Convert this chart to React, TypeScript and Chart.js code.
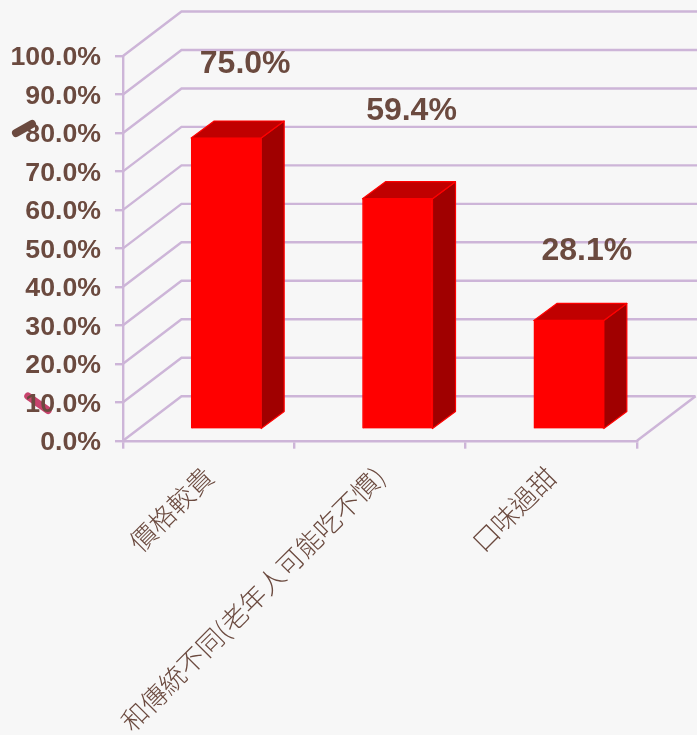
import React, { useEffect, useRef } from "react";
import { Chart, registerables } from "chart.js";

Chart.register(...registerables);

const categories = ["價格較貴", "和傳統不同(老年人可能吃不慣)", "口味過甜"];
const values = [75.0, 59.4, 28.1];
const valueLabels = ["75.0%", "59.4%", "28.1%"];
const labelGaps = [74, 88, 69];
const labelShifts = [19, 14, 18];

const BG = "#F7F7F7";
const TEXT = "#6B4A3F";
const GRID = "#CDB5D8";
const WALL_DX = 58.5;
const WALL_DY = -44.5;
const RIGHT_EDGE = 697;
const BAR_DX = 17.5;
const BAR_DY = -11;
const BAR_K = 1.011;
const DEPTH_X = 23;
const DEPTH_Y = -17;
const Y_LABEL_SHIFT = 2;

const line = (ctx: CanvasRenderingContext2D, pts: number[][], color: string, w: number) => {
  ctx.beginPath();
  pts.forEach((p, i) => (i ? ctx.lineTo(p[0], p[1]) : ctx.moveTo(p[0], p[1])));
  ctx.strokeStyle = color;
  ctx.lineWidth = w;
  ctx.stroke();
};

const poly = (ctx: CanvasRenderingContext2D, pts: number[][], fill: string) => {
  ctx.beginPath();
  pts.forEach((p, i) => (i ? ctx.lineTo(p[0], p[1]) : ctx.moveTo(p[0], p[1])));
  ctx.closePath();
  ctx.fillStyle = fill;
  ctx.fill();
  ctx.strokeStyle = "#FF0000";
  ctx.lineWidth = 1.2;
  ctx.lineJoin = "round";
  ctx.stroke();
};

const scene = {
  id: "scene",
  beforeDraw(chart: any) {
    const { ctx, width, height, scales } = chart;
    const yScale = scales.y;
    yScale.getLabelItems(chart.chartArea).forEach((item: any) => {
      if (!item.shifted) {
        item.options.translation = [item.options.translation[0], item.options.translation[1] + Y_LABEL_SHIFT];
        item.shifted = true;
      }
    });
    ctx.save();
    ctx.fillStyle = BG;
    ctx.fillRect(0, 0, width, height);
    const left = scales.x.left;
    const right = scales.x.right;
    for (let v = 0; v <= 100; v += 10) {
      const y = yScale.getPixelForValue(v);
      line(
        ctx,
        [
          [left, y],
          [left + WALL_DX, y + WALL_DY],
          [v === 0 ? right + WALL_DX : RIGHT_EDGE, y + WALL_DY],
        ],
        GRID,
        2.4
      );
    }
    const y0 = yScale.getPixelForValue(0);
    line(ctx, [[right, y0], [right + WALL_DX, y0 + WALL_DY]], GRID, 2.4);
    // stray pen strokes on the axis labels
    ctx.lineCap = "round";
    const y80 = yScale.getPixelForValue(80);
    line(ctx, [[16, y80], [32, y80 - 9]], TEXT, 8);
    const y10 = yScale.getPixelForValue(10);
    line(ctx, [[28, y10 - 6], [48, y10 + 8]], "#C8436D", 7.5);
    ctx.restore();
  },
  beforeDatasetDraw(chart: any, args: any) {
    const { ctx } = chart;
    const meta = chart.getDatasetMeta(args.index);
    ctx.save();
    meta.data.forEach((el: any) => {
      const { x, y, base, width } = el.getProps(["x", "y", "base", "width"], true);
      const l = x - width / 2 + BAR_DX;
      const r = x + width / 2 + BAR_DX;
      const bottom = base + BAR_DY;
      const top = bottom - (base - y) * BAR_K;
      poly(ctx, [[r, top], [r + DEPTH_X, top + DEPTH_Y], [r + DEPTH_X, bottom + DEPTH_Y], [r, bottom]], "#A00000");
      poly(ctx, [[l, top], [l + DEPTH_X, top + DEPTH_Y], [r + DEPTH_X, top + DEPTH_Y], [r, top]], "#C00000");
    });
    ctx.restore();
    ctx.save();
    const base = chart.scales.y.getPixelForValue(0);
    ctx.translate(BAR_DX, BAR_DY + base * (1 - BAR_K));
    ctx.scale(1, BAR_K);
  },
  afterDatasetDraw(chart: any) {
    chart.ctx.restore();
  },
  afterDatasetsDraw(chart: any) {
    const { ctx } = chart;
    const meta = chart.getDatasetMeta(0);
    ctx.save();
    ctx.font = "bold 32px 'Liberation Sans', Arial, sans-serif";
    ctx.fillStyle = TEXT;
    ctx.textAlign = "center";
    ctx.textBaseline = "middle";
    meta.data.forEach((el: any, i: number) => {
      const { x, y, base } = el.getProps(["x", "y", "base"], true);
      const top = base + BAR_DY - (base - y) * BAR_K;
      ctx.fillText(valueLabels[i], x + BAR_DX + labelShifts[i], top - labelGaps[i]);
    });
    ctx.restore();
  },
};

export default function App() {
  const ref = useRef<HTMLCanvasElement>(null);
  useEffect(() => {
    document.body.style.margin = "0";
    document.body.style.background = BG;
    const chart = new Chart(ref.current!, {
      type: "bar",
      data: {
        labels: categories,
        datasets: [
          {
            data: values,
            backgroundColor: "#FF0000",
            borderColor: "#FF0000",
            borderWidth: 1,
            barThickness: 70,
          },
        ],
      },
      options: {
        responsive: false,
        animation: false,
        layout: { padding: { top: 56, right: 60, left: 0, bottom: 0 } },
        plugins: { legend: { display: false }, tooltip: { enabled: false }, title: { display: false } },
        scales: {
          x: {
            afterFit(scale: any) {
              scale.height = 294.3;
            },
            grid: {
              drawOnChartArea: false,
              drawTicks: true,
              tickLength: 8,
              color: GRID,
              lineWidth: 2.4,
            },
            border: { color: GRID, width: 2.4 },
            ticks: {
              color: TEXT,
              autoSkip: false,
              maxRotation: 45,
              minRotation: 45,
              padding: 12,
              font: { family: "'Noto Sans CJK TC', sans-serif", size: 26.4, weight: "300" },
            },
          },
          y: {
            min: 0,
            max: 100,
            afterFit(scale: any) {
              scale.width = 123;
            },
            grid: {
              drawOnChartArea: false,
              drawTicks: true,
              tickLength: 8,
              color: GRID,
              lineWidth: 2.4,
            },
            border: { color: GRID, width: 2.4 },
            ticks: {
              stepSize: 10,
              color: TEXT,
              padding: 14,
              autoSkip: false,
              callback: (v: any) => Number(v).toFixed(1) + "%",
              font: { family: "'Liberation Sans', Arial, sans-serif", size: 26.7, weight: "bold" },
            },
          },
        },
      } as any,
      plugins: [scene],
    });
    return () => chart.destroy();
  }, []);
  return <canvas ref={ref} width={697} height={735} style={{ display: "block", width: 697, height: 735 }} />;
}
